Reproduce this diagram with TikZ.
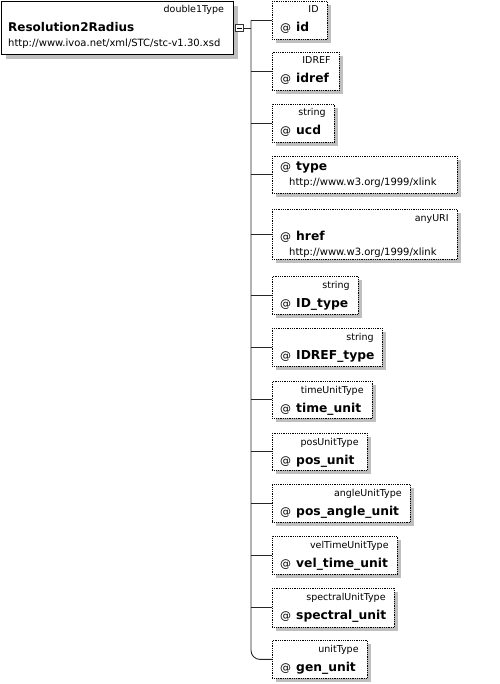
\documentclass[tikz,border=0pt]{standalone}
\usepackage{fontspec}
\setmainfont{DejaVu Sans}
\usetikzlibrary{shadows}

\begin{document}
\begin{tikzpicture}[x=1pt, y=-1pt,
    mainbox/.style={draw=black, line width=1.1pt, fill=white, anchor=north west, inner sep=0pt,
        general shadow={fill=black!25, shadow xshift=4pt, shadow yshift=-4pt}},
    attr/.style={draw=black, densely dotted, line width=0.8pt, fill=white, anchor=north west, inner sep=0pt,
        minimum height=38pt, general shadow={fill=black!25, shadow xshift=4pt, shadow yshift=-4pt}},
    typelbl/.style={font=\fontsize{9.5}{11}\selectfont, inner sep=0pt, anchor=base east},
    urllbl/.style={font=\fontsize{10}{12}\selectfont, inner sep=0pt, anchor=base west},
    attrname/.style={font=\fontsize{12.3}{14}\selectfont, inner sep=0pt, anchor=base west},
    conn/.style={draw=black!85, line width=0.9pt}]
                \useasboundingbox (0,0) rectangle (499,684);

                \node[mainbox, minimum width=232pt, minimum height=53pt] (main) at (1,1) {};
                \node[typelbl] (main-type) at ([xshift=-10pt,yshift=-12pt]main.north east) {double1Type};
                \node[attrname, font=\fontsize{12}{14}\selectfont\bfseries] (main-name) at ([xshift=7pt,yshift=-31pt]main.north west) {Resolution2Radius};
                \node[urllbl] (main-url) at ([xshift=7pt,yshift=-46pt]main.north west) {http://www.ivoa.net/xml/STC/stc-v1.30.xsd};
                \node[draw=black!80, line width=0.8pt, fill=white, minimum size=7.5pt, inner sep=0pt] (collapse) at (239.5,28) {};
                \draw[line width=0.8pt] ([xshift=2pt]collapse.west) -- ([xshift=-2pt]collapse.east);

                \coordinate (trunk) at (251,0);

                \node[attr, minimum width=55pt] (id) at (272,1) {};
                \node[attr, minimum width=67pt] (idref) at (272,52) {};
                \node[attr, minimum width=62pt] (ucd) at (272,104) {};
                \node[attr, minimum width=185pt, minimum height=37pt] (type) at (272,156) {};
                \node[attr, minimum width=185pt, minimum height=50pt] (href) at (272,209) {};
                \node[attr, minimum width=86pt] (idtype) at (272,276) {};
                \node[attr, minimum width=110pt] (idreftype) at (272,328) {};
                \node[attr, minimum width=100pt, minimum height=37pt] (timeunit) at (272,381) {};
                \node[attr, minimum width=95pt, minimum height=37pt] (posunit) at (272,433) {};
                \node[attr, minimum width=138pt] (posangleunit) at (272,484) {};
                \node[attr, minimum width=125pt] (veltimeunit) at (272,536) {};
                \node[attr, minimum width=122pt, minimum height=39pt] (spectralunit) at (272,588) {};
                \node[attr, minimum width=95pt] (genunit) at (272,640) {};

                \node[typelbl] (id-type) at ([xshift=-9pt,yshift=-12pt]id.north east) {ID};
                \node[attrname] (id-name) at ([xshift=8pt,yshift=-31pt]id.north west) {{\fontsize{11}{13}\selectfont @}\hspace{5pt}\textbf{id}};
                \node[typelbl] (idref-type) at ([xshift=-9pt,yshift=-12pt]idref.north east) {IDREF};
                \node[attrname] (idref-name) at ([xshift=8pt,yshift=-31pt]idref.north west) {{\fontsize{11}{13}\selectfont @}\hspace{5pt}\textbf{idref}};
                \node[typelbl] (ucd-type) at ([xshift=-9pt,yshift=-12pt]ucd.north east) {string};
                \node[attrname] (ucd-name) at ([xshift=8pt,yshift=-31pt]ucd.north west) {{\fontsize{11}{13}\selectfont @}\hspace{5pt}\textbf{ucd}};
                \node[attrname] (type-name) at ([xshift=8pt,yshift=-15pt]type.north west) {{\fontsize{11}{13}\selectfont @}\hspace{5pt}\textbf{type}};
                \node[urllbl] (type-url) at ([xshift=17pt,yshift=-30pt]type.north west) {http://www.w3.org/1999/xlink};
                \node[typelbl] (href-type) at ([xshift=-9pt,yshift=-13pt]href.north east) {anyURI};
                \node[attrname] (href-name) at ([xshift=8pt,yshift=-32pt]href.north west) {{\fontsize{11}{13}\selectfont @}\hspace{5pt}\textbf{href}};
                \node[urllbl] (href-url) at ([xshift=17pt,yshift=-46pt]href.north west) {http://www.w3.org/1999/xlink};
                \node[typelbl] (idtype-type) at ([xshift=-9pt,yshift=-12pt]idtype.north east) {string};
                \node[attrname] (idtype-name) at ([xshift=8pt,yshift=-31pt]idtype.north west) {{\fontsize{11}{13}\selectfont @}\hspace{5pt}\textbf{ID\_type}};
                \node[typelbl] (idreftype-type) at ([xshift=-9pt,yshift=-12pt]idreftype.north east) {string};
                \node[attrname] (idreftype-name) at ([xshift=8pt,yshift=-31pt]idreftype.north west) {{\fontsize{11}{13}\selectfont @}\hspace{5pt}\textbf{IDREF\_type}};
                \node[typelbl] (timeunit-type) at ([xshift=-9pt,yshift=-12pt]timeunit.north east) {timeUnitType};
                \node[attrname] (timeunit-name) at ([xshift=8pt,yshift=-31pt]timeunit.north west) {{\fontsize{11}{13}\selectfont @}\hspace{5pt}\textbf{time\_unit}};
                \node[typelbl] (posunit-type) at ([xshift=-9pt,yshift=-12pt]posunit.north east) {posUnitType};
                \node[attrname] (posunit-name) at ([xshift=8pt,yshift=-31pt]posunit.north west) {{\fontsize{11}{13}\selectfont @}\hspace{5pt}\textbf{pos\_unit}};
                \node[typelbl] (posangleunit-type) at ([xshift=-9pt,yshift=-12pt]posangleunit.north east) {angleUnitType};
                \node[attrname] (posangleunit-name) at ([xshift=8pt,yshift=-31pt]posangleunit.north west) {{\fontsize{11}{13}\selectfont @}\hspace{5pt}\textbf{pos\_angle\_unit}};
                \node[typelbl] (veltimeunit-type) at ([xshift=-9pt,yshift=-12pt]veltimeunit.north east) {velTimeUnitType};
                \node[attrname] (veltimeunit-name) at ([xshift=8pt,yshift=-31pt]veltimeunit.north west) {{\fontsize{11}{13}\selectfont @}\hspace{5pt}\textbf{vel\_time\_unit}};
                \node[typelbl] (spectralunit-type) at ([xshift=-9pt,yshift=-12pt]spectralunit.north east) {spectralUnitType};
                \node[attrname] (spectralunit-name) at ([xshift=8pt,yshift=-31pt]spectralunit.north west) {{\fontsize{11}{13}\selectfont @}\hspace{5pt}\textbf{spectral\_unit}};
                \node[typelbl] (genunit-type) at ([xshift=-9pt,yshift=-12pt]genunit.north east) {unitType};
                \node[attrname] (genunit-name) at ([xshift=8pt,yshift=-31pt]genunit.north west) {{\fontsize{11}{13}\selectfont @}\hspace{5pt}\textbf{gen\_unit}};

                \draw[conn] (collapse.east) -- (collapse.east -| trunk);
                \draw[conn] (id.west) -- (id.west -| trunk);
                \draw[conn, rounded corners=9pt] (id.west -| trunk) |- (genunit.west);
                \foreach \n in {idref,ucd,type,href,idtype,idreftype,timeunit,posunit,posangleunit,veltimeunit,spectralunit}
                    \draw[conn] (\n.west) -- (\n.west -| trunk);
            \end{tikzpicture}
\end{document}
